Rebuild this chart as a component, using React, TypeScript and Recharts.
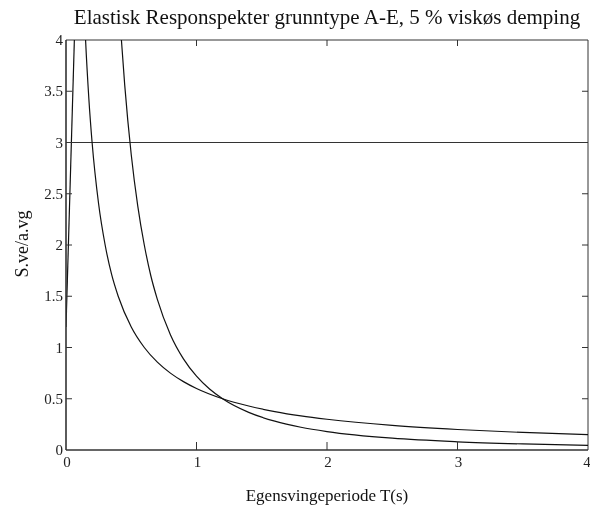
import { Line, LineChart, ReferenceLine, XAxis, YAxis } from 'recharts';

// (T in seconds, S.ve/a.vg)
const risingT = [0, 0.07];
const risingS = [1.2, 4.26];

const plateauT = [0, 4];
const plateauS = [3, 3];

const velT = [0.14, 0.15, 0.175, 0.2, 0.25, 0.3, 0.35, 0.4, 0.5, 0.6, 0.7, 0.8, 0.9, 1.0, 1.2, 1.4, 1.6, 1.8, 2.0, 2.5, 3.0, 3.5, 4.0];
const velS = [4.29, 4.0, 3.43, 3.0, 2.4, 2.0, 1.71, 1.5, 1.2, 1.0, 0.857, 0.75, 0.667, 0.6, 0.5, 0.429, 0.375, 0.333, 0.3, 0.24, 0.2, 0.171, 0.15];

const dispT = [0.4, 0.42, 0.45, 0.5, 0.55, 0.6, 0.65, 0.7, 0.8, 0.9, 1.0, 1.1, 1.2, 1.4, 1.6, 1.8, 2.0, 2.5, 3.0, 3.5, 4.0];
const dispS = [4.5, 4.08, 3.56, 2.88, 2.38, 2.0, 1.7, 1.47, 1.125, 0.889, 0.72, 0.595, 0.5, 0.367, 0.281, 0.222, 0.18, 0.115, 0.08, 0.059, 0.045];

const xTicks = [0, 1, 2, 3, 4];
const yTicks = [0, 0.5, 1, 1.5, 2, 2.5, 3, 3.5, 4];

const TITLE = 'Elastisk Responspekter grunntype A-E, 5 % viskøs demping';
const X_LABEL = 'Egensvingeperiode T(s)';
const Y_LABEL = 'S.ve/a.vg';

// container sits at page x=8, y=0
const W = 582;
const H = 509;
const PL = 58;
const PR = 580;
const PT = 40;
const PB = 450;
const FONT = '"Liberation Serif", "Times New Roman", serif';
const INK = '#222';

const toPoints = (ts: number[], ss: number[]) => ts.map((t, i) => ({ t, s: ss[i] }));

const YTick = (props: any) => {
  const { y, payload } = props;
  const edge = payload.value === 0 || payload.value === 4;
  return (
    <g>
      {!edge && <line x1={PL} x2={PL + 6} y1={y} y2={y} stroke="#333" />}
      {!edge && <line x1={PR - 6} x2={PR} y1={y} y2={y} stroke="#333" />}
      <text x={PL - 3} y={y + 5} textAnchor="end" fontFamily={FONT} fontSize={15} fill={INK}>
        {payload.value}
      </text>
    </g>
  );
};

const XTick = (props: any) => {
  const { x, payload } = props;
  const edge = payload.value === 0 || payload.value === 4;
  return (
    <g>
      {!edge && <line x1={x} x2={x} y1={PB - 8} y2={PB} stroke="#333" />}
      {!edge && <line x1={x} x2={x} y1={PT} y2={PT + 6} stroke="#333" />}
      <text x={x + 1} y={PB + 17} textAnchor="middle" fontFamily={FONT} fontSize={15} fill={INK}>
        {payload.value}
      </text>
    </g>
  );
};

export default function App() {
  const lineProps = {
    dataKey: 's',
    type: 'monotone' as const,
    stroke: '#111',
    strokeWidth: 1.2,
    dot: false,
    isAnimationActive: false,
  };

  return (
    <div style={{ position: 'fixed', left: 8, top: 0, width: W, height: H, overflow: 'hidden' }}>
      <LineChart width={W} height={H} margin={{ top: PT, right: W - PR, bottom: 0, left: 0 }}>
        <XAxis
          type="number"
          dataKey="t"
          domain={[0, 4]}
          ticks={xTicks}
          allowDataOverflow
          height={H - PB}
          tickSize={0}
          tick={XTick}
          axisLine={{ stroke: '#333', strokeWidth: 1.6 }}
        />
        <YAxis
          type="number"
          domain={[0, 4]}
          ticks={yTicks}
          allowDataOverflow
          width={PL}
          tickSize={0}
          tick={YTick}
          axisLine={{ stroke: '#333', strokeWidth: 1.6 }}
        />
        <ReferenceLine y={4} stroke="#333" strokeWidth={1} />
        <ReferenceLine x={4} stroke="#333" strokeWidth={1} />
        <Line {...lineProps} data={toPoints(plateauT, plateauS)} stroke="#333" strokeWidth={1} />
        <Line {...lineProps} data={toPoints(risingT, risingS)} />
        <Line {...lineProps} data={toPoints(velT, velS)} />
        <Line {...lineProps} data={toPoints(dispT, dispS)} />
      </LineChart>
      <svg
        width={W}
        height={H}
        style={{ position: 'absolute', left: 0, top: 0, pointerEvents: 'none' }}
      >
        <text x={(PL + PR) / 2} y={24} textAnchor="middle" fontFamily={FONT} fontSize={21} fill="#111">
          {TITLE}
        </text>
        <text x={(PL + PR) / 2} y={501} textAnchor="middle" fontFamily={FONT} fontSize={17} fill="#111">
          {X_LABEL}
        </text>
        <text
          x={0}
          y={0}
          transform={`translate(20, ${(PT + PB) / 2 - 1}) rotate(-90)`}
          textAnchor="middle"
          fontFamily={FONT}
          fontSize={18}
          fill="#111"
        >
          {Y_LABEL}
        </text>
      </svg>
    </div>
  );
}
